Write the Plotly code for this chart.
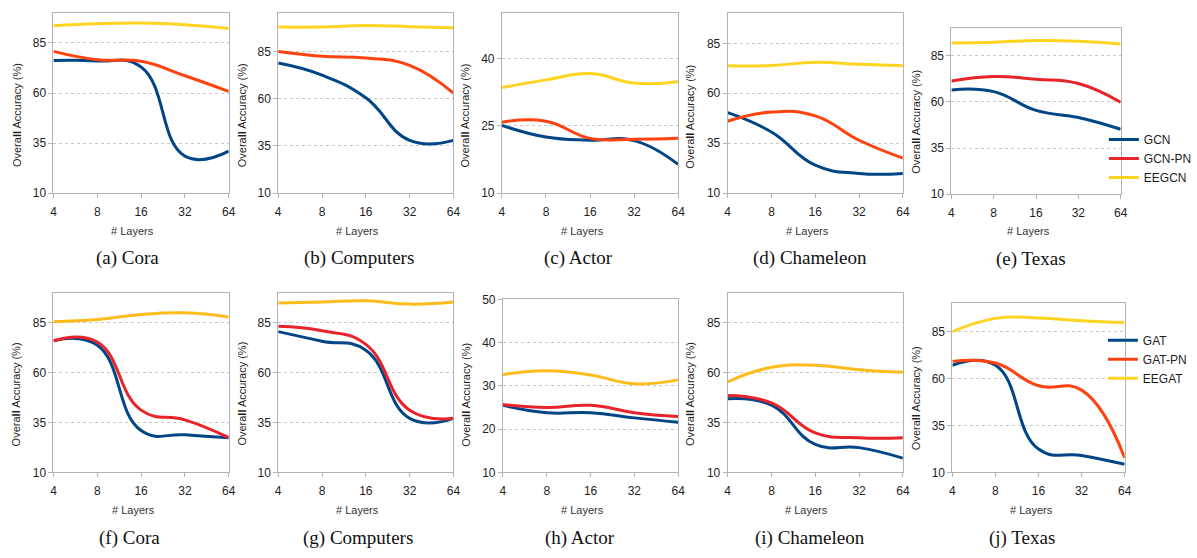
import math
import plotly.graph_objects as go

W, H = 1197, 558
layers = [4, 8, 16, 32, 64]
layer_labels = ["4", "8", "16", "32", "64"]

gcn_names = ["GCN", "GCN-PN", "EEGCN"]
gat_names = ["GAT", "GAT-PN", "EEGAT"]

# ---- top row (GCN family) ----
cora_gcn = [76.2, 76.0, 73.0, 28.5, 31.0]
cora_gcnpn = [80.8, 76.6, 75.8, 68.6, 60.8]
cora_eegcn = [93.6, 94.6, 94.9, 94.1, 92.2]

comp_gcn = [78.9, 72.5, 60.5, 38.0, 38.0]
comp_gcnpn = [85.0, 82.5, 81.6, 77.7, 63.0]
comp_eegcn = [98.0, 98.0, 98.8, 98.2, 97.6]

actor_gcn = [25.1, 22.5, 21.8, 21.7, 16.4]
actor_gcnpn = [25.8, 26.0, 22.2, 22.0, 22.2]
actor_eegcn = [33.5, 35.2, 36.6, 34.5, 34.8]

cham_gcn = [50.3, 40.6, 24.0, 19.9, 19.9]
cham_gcnpn = [46.0, 50.6, 48.7, 36.5, 27.6]
cham_eegcn = [73.8, 73.9, 75.5, 74.5, 73.8]

texas_gcn = [66.5, 65.6, 55.4, 51.6, 45.2]
texas_gcnpn = [71.3, 73.8, 72.3, 70.0, 59.8]
texas_eegcn = [92.0, 92.4, 93.3, 92.9, 91.4]

# ---- bottom row (GAT family) ----
cora_gat = [76.0, 73.7, 31.0, 28.8, 27.4]
cora_gatpn = [76.0, 75.4, 41.2, 36.3, 27.4]
cora_eegat = [85.6, 86.7, 89.2, 90.0, 87.9]

comp_gat = [80.6, 75.8, 71.3, 37.1, 37.1]
comp_gatpn = [83.3, 81.0, 74.2, 41.2, 37.1]
comp_eegat = [94.9, 95.5, 96.1, 94.4, 95.4]

actor_gat = [25.5, 23.8, 23.8, 22.6, 21.6]
actor_gatpn = [25.7, 25.0, 25.5, 23.8, 22.9]
actor_eegat = [32.6, 33.5, 32.5, 30.5, 31.4]

cham_gat = [46.9, 43.7, 24.0, 22.4, 17.1]
cham_gatpn = [48.5, 44.8, 29.8, 27.4, 27.4]
cham_eegat = [55.4, 62.7, 63.7, 61.5, 60.2]

texas_gat = [67.0, 67.0, 22.4, 19.0, 14.3]
texas_gatpn = [69.1, 68.2, 56.1, 53.8, 17.6]
texas_eegat = [84.9, 92.0, 92.2, 90.8, 89.8]

captions = ["(a) Cora", "(b) Computers", "(c) Actor", "(d) Chameleon", "(e) Texas",
            "(f) Cora", "(g) Computers", "(h) Actor", "(i) Chameleon", "(j) Texas"]

BLUE = "#004586"
ORANGE = "#ff420e"
RED = "#e8232a"
YEL = "#ffd320"
YEL2 = "#fcbc1c"

# layout config: plot box (x0, x1, ytop, ybottom) in pixels, y range, tick step
panels = [
    dict(s=[cora_gcn, cora_gcnpn, cora_eegcn], n=gcn_names, box=(51, 228, 6, 191), yr=(10, 100), dt=25,
         c=(BLUE, ORANGE, YEL), yt=(14, 111), xt=(131, 230), cp=(126, 257)),
    dict(s=[comp_gcn, comp_gcnpn, comp_eegcn], n=gcn_names, box=(278, 455, 6, 191), yr=(10, 105.5), dt=25,
         c=(BLUE, ORANGE, YEL), yt=(241, 111.5), xt=(358.5, 230), cp=(359.5, 257)),
    dict(s=[actor_gcn, actor_gcnpn, actor_eegcn], n=gcn_names, box=(504, 682, 6.5, 191), yr=(10, 50), dt=15,
         c=(BLUE, ORANGE, YEL), yt=(467, 111), xt=(585.5, 230), cp=(581, 257)),
    dict(s=[cham_gcn, cham_gcnpn, cham_eegcn], n=gcn_names, box=(732, 909, 6.5, 191), yr=(10, 100), dt=25,
         c=(BLUE, ORANGE, YEL), yt=(694.5, 113), xt=(812.5, 230), cp=(815, 257)),
    dict(s=[texas_gcn, texas_gcnpn, texas_eegcn], n=gcn_names, box=(958, 1129, 21.7, 192), yr=(10, 100), dt=25,
         c=(BLUE, RED, YEL), yt=(922, 118), xt=(1036, 230), cp=(1038.5, 258), leg="legend"),
    dict(s=[cora_gat, cora_gatpn, cora_eegat], n=gat_names, box=(51, 228, 293.3, 477.3), yr=(10, 100), dt=25,
         c=(BLUE, RED, YEL2), yt=(13, 397.5), xt=(131.5, 516), cp=(127.5, 545)),
    dict(s=[comp_gat, comp_gatpn, comp_eegat], n=gat_names, box=(278, 455, 293.3, 477.3), yr=(10, 100), dt=25,
         c=(BLUE, RED, YEL2), yt=(241, 397), xt=(358, 516), cp=(359, 545)),
    dict(s=[actor_gat, actor_gatpn, actor_eegat], n=gat_names, box=(505, 682, 300, 477.3), yr=(10, 50), dt=10,
         c=(BLUE, RED, YEL2), yt=(467, 397.5), xt=(585, 516), cp=(583, 545)),
    dict(s=[cham_gat, cham_gatpn, cham_eegat], n=gat_names, box=(732, 909, 293.3, 477.3), yr=(10, 100), dt=25,
         c=(BLUE, RED, YEL2), yt=(694, 397), xt=(812, 516), cp=(815.5, 545)),
    dict(s=[texas_gat, texas_gatpn, texas_eegat], n=gat_names, box=(959, 1133, 304, 477.3), yr=(10, 100), dt=25,
         c=(BLUE, ORANGE, YEL), yt=(923, 401.5), xt=(1039, 516), cp=(1029.5, 545), leg="legend2"),
]

FRAME = "#b3b3b3"
TXT = "#1e1e1e"

fig = go.Figure()
layout = dict(width=W, height=H, margin=dict(l=0, r=0, t=0, b=0),
              plot_bgcolor="white", paper_bgcolor="white",
              font=dict(family="Liberation Sans, Arial, sans-serif", size=12, color=TXT),
              annotations=[])

for k, p in enumerate(panels, start=1):
    x0, x1, yt0, yb = p["box"]
    for vals, name, col in zip(p["s"], p["n"], p["c"]):
        leg = p.get("leg")
        fig.add_trace(go.Scatter(
            x=layers, y=vals, mode="lines", name=name,
            line=dict(color=col, width=3, shape="spline", smoothing=1.3),
            xaxis=f"x{k}", yaxis=f"y{k}",
            showlegend=leg is not None, legend=leg if leg else "legend",
            hoverinfo="skip"))
    layout[f"xaxis{k}"] = dict(
        domain=[x0 / W, x1 / W], anchor=f"y{k}", type="log",
        range=[math.log10(layers[0]), math.log10(layers[-1])],
        tickvals=layers, ticktext=layer_labels,
        showline=True, mirror=True, linecolor=FRAME, linewidth=1,
        ticks="outside", ticklen=4, tickcolor=FRAME, tickwidth=1,
        showgrid=False, zeroline=False, tickfont=dict(size=12, color=TXT),
        ticklabelstandoff=3, fixedrange=True)
    layout[f"yaxis{k}"] = dict(
        domain=[1 - yb / H, 1 - yt0 / H], anchor=f"x{k}",
        range=list(p["yr"]), tick0=10, dtick=p["dt"],
        showline=True, mirror=True, linecolor=FRAME, linewidth=1,
        ticks="outside", ticklen=4, tickcolor=FRAME, tickwidth=1,
        showgrid=True, gridcolor="#c8c8c8", griddash="dot", gridwidth=1,
        zeroline=False, tickfont=dict(size=12, color=TXT), fixedrange=True)
    ax, ay = p["yt"]
    layout["annotations"].append(dict(
        text="Overa<b>ll</b> Accuracy (%)", x=ax / W, y=1 - ay / H, xref="paper", yref="paper",
        textangle=-90, showarrow=False, xanchor="center", yanchor="middle",
        font=dict(size=11, color=TXT)))
    bx, by = p["xt"]
    layout["annotations"].append(dict(
        text="# Layers", x=bx / W, y=1 - by / H, xref="paper", yref="paper",
        showarrow=False, xanchor="center", yanchor="middle", font=dict(size=11, color="#333333")))
    cx, cy = p["cp"]
    layout["annotations"].append(dict(
        text=captions[k - 1], x=cx / W, y=1 - cy / H, xref="paper", yref="paper",
        showarrow=False, xanchor="center", yanchor="middle",
        font=dict(family="Liberation Serif, Times New Roman, serif", size=19, color="#111111")))

layout["legend"] = dict(x=1112 / W, y=1 - 121 / H, xanchor="left", yanchor="top",
                        font=dict(size=12, color=TXT), bgcolor="rgba(0,0,0,0)",
                        borderwidth=0, tracegroupgap=0, traceorder="normal")
layout["legend2"] = dict(x=1111 / W, y=1 - 327 / H, xanchor="left", yanchor="top",
                         font=dict(size=12, color=TXT), bgcolor="rgba(0,0,0,0)",
                         borderwidth=0, tracegroupgap=0, traceorder="normal")

fig.update_layout(**layout)
fig.write_html("out.html", config={"displayModeBar": False},
               post_script="document.body.style.margin='0';document.body.style.overflow='hidden';")
